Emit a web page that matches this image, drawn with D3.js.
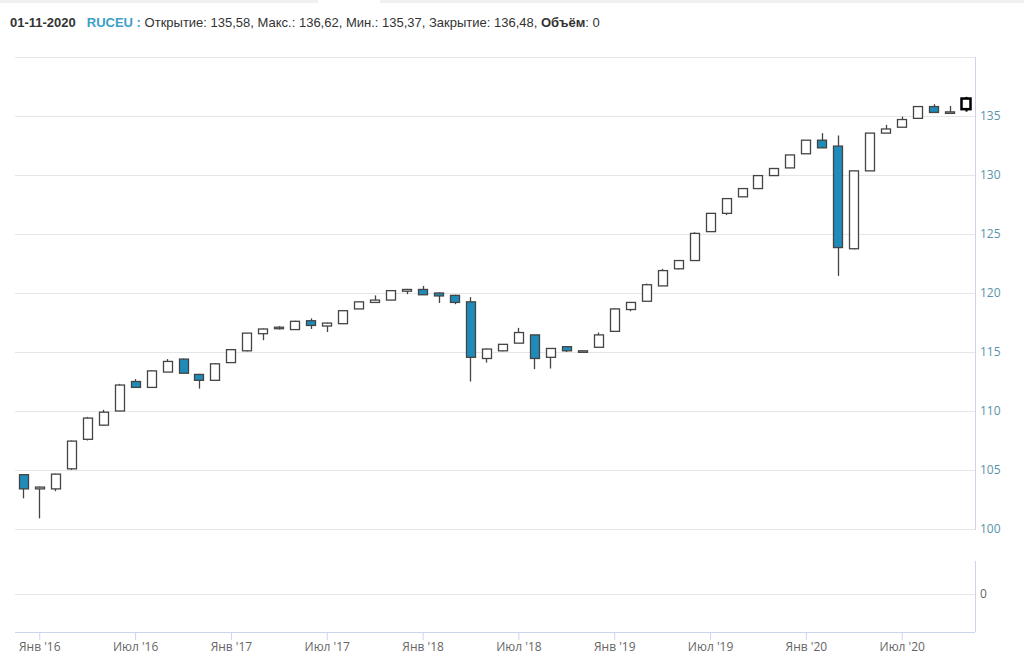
<!DOCTYPE html>
<html><head><meta charset="utf-8">
<script src="https://cdn.jsdelivr.net/npm/d3@7"></script>
<style>
html,body{margin:0;padding:0;background:#fff;}
svg{display:block;font-family:"Liberation Sans",Arial,sans-serif;}
</style></head>
<body><svg id="chart" width="1024" height="656"></svg>
<script>
const months = ["2015-12","2016-01","2016-02","2016-03","2016-04","2016-05","2016-06","2016-07","2016-08","2016-09","2016-10","2016-11","2016-12",
"2017-01","2017-02","2017-03","2017-04","2017-05","2017-06","2017-07","2017-08","2017-09","2017-10","2017-11","2017-12",
"2018-01","2018-02","2018-03","2018-04","2018-05","2018-06","2018-07","2018-08","2018-09","2018-10","2018-11","2018-12",
"2019-01","2019-02","2019-03","2019-04","2019-05","2019-06","2019-07","2019-08","2019-09","2019-10","2019-11","2019-12",
"2020-01","2020-02","2020-03","2020-04","2020-05","2020-06","2020-07","2020-08","2020-09","2020-10","2020-11"];
const openV = [104.6,103.4,103.4,105.1,107.6,108.8,110.0,112.5,112.0,113.3,114.4,113.1,112.6,
114.1,115.1,116.55,117.0,116.9,117.65,117.2,117.4,118.65,119.2,119.4,120.15,
120.3,120.0,119.8,119.25,114.45,115.1,115.75,116.45,114.55,115.45,115.05,115.4,
116.75,118.6,119.3,120.6,122.05,122.75,125.2,126.75,128.15,128.85,129.95,130.6,
131.8,132.95,132.45,123.75,130.35,133.55,134.05,134.8,135.8,135.3,135.58];
const highV = [104.6,103.6,104.7,107.5,109.5,110.1,112.3,112.7,113.45,114.4,114.45,113.15,114.05,
115.25,116.6,117.0,117.2,117.65,117.85,117.5,118.5,119.25,119.8,120.2,120.35,
120.6,120.05,119.85,119.65,115.3,115.65,117.05,116.45,115.3,115.5,115.15,116.65,
118.7,119.2,120.8,122.05,122.75,125.15,126.75,128.0,128.85,129.95,130.55,131.7,
132.95,133.55,133.35,130.35,133.55,134.25,134.95,135.85,136.0,135.85,136.62];
const lowV = [102.6,100.9,103.2,105.0,107.5,108.8,110.0,112.0,112.0,113.3,113.2,111.9,112.6,
114.1,115.05,116.0,116.9,116.9,116.95,116.7,117.4,118.65,119.2,119.4,119.9,
119.85,119.15,119.05,112.5,114.1,115.05,115.75,113.55,113.6,115.0,114.95,115.4,
116.75,118.45,119.3,120.6,122.0,122.75,125.2,126.6,128.15,128.8,129.95,130.6,
131.8,132.3,121.45,123.7,130.35,133.55,134.05,134.8,135.3,135.3,135.37];
const closeV = [103.4,103.55,104.65,107.45,109.4,109.9,112.2,112.0,113.4,114.2,113.2,112.6,114.0,
115.2,116.6,116.95,117.1,117.6,117.25,117.45,118.5,119.25,119.4,120.2,120.3,
119.85,119.75,119.2,114.55,115.25,115.65,116.65,114.45,115.3,115.1,115.1,116.45,
118.65,119.2,120.7,121.9,122.75,125.05,126.75,128.0,128.85,129.95,130.55,131.7,
132.95,132.3,123.85,130.35,133.55,133.9,134.7,135.8,135.3,135.35,136.48];
const priceTicks = [100,105,110,115,120,125,130,135];
const volumeTicks = [0];
const xTickMonths = ["2016-01","2016-07","2017-01","2017-07","2018-01","2018-07","2019-01","2019-07","2020-01","2020-07"];
const monthNames = {"01":"Янв","07":"Июл"};

const data = months.map((m,i)=>({m, o:openV[i], h:highV[i], l:lowV[i], c:closeV[i]}));

const svg = d3.select("#chart");
const left = 15, right = 975;
const x = d3.scalePoint().domain(months).range([23.3, 965.6]);
const y = d3.scaleLinear().domain([100,140]).range([529,57]);
const yv = d3.scaleLinear().domain([-1,1]).range([627,561]);

// top faint bar
svg.append("rect").attr("x",0).attr("y",0).attr("width",318).attr("height",3).attr("fill","#f0f0f0");
svg.append("rect").attr("x",380).attr("y",0).attr("width",644).attr("height",3).attr("fill","#f0f0f0");

// header
const hdr = svg.append("text").attr("x",10).attr("y",27).attr("font-size",13).attr("fill","#333");
hdr.append("tspan").attr("font-weight","bold").text("01-11-2020");
hdr.append("tspan").attr("dx",11).attr("font-weight","bold").attr("fill","#3aa0c8").text("RUCEU :");
hdr.append("tspan").text(" Открытие: 135,58, Макс.: 136,62, Мин.: 135,37, Закрытие: 136,48, ");
hdr.append("tspan").attr("font-weight","bold").text("Объём");
hdr.append("tspan").text(": 0");

// grid lines main
svg.append("g").selectAll("line").data(priceTicks.concat([140])).join("line")
  .attr("x1",left).attr("x2",right).attr("y1",d=>Math.round(y(d))+0.5).attr("y2",d=>Math.round(y(d))+0.5)
  .attr("stroke","#e6e6e6").attr("stroke-width",1);
// volume grid
svg.append("g").selectAll("line").data(volumeTicks).join("line")
  .attr("x1",left).attr("x2",right).attr("y1",d=>Math.round(yv(d))+0.5).attr("y2",d=>Math.round(yv(d))+0.5)
  .attr("stroke","#e6e6e6");

// right axis lines
svg.append("line").attr("x1",right+0.5).attr("x2",right+0.5).attr("y1",57).attr("y2",530).attr("stroke","#ccd6eb");
svg.append("line").attr("x1",right+0.5).attr("x2",right+0.5).attr("y1",561).attr("y2",632).attr("stroke","#ccd6eb");

// right axis labels
const yAxis = d3.axisRight(y).tickValues(priceTicks).tickSize(0).tickPadding(5).tickFormat(d3.format("d"));
const ga = svg.append("g").attr("transform",`translate(${right},0)`).call(yAxis);
ga.select(".domain").remove();
ga.selectAll("text").attr("fill","#5a93a8").attr("font-size",12).attr("font-family","'Open Sans',sans-serif");
const yvAxis = d3.axisRight(yv).tickValues(volumeTicks).tickSize(0).tickPadding(5).tickFormat(d3.format("d"));
const gv = svg.append("g").attr("transform",`translate(${right},0)`).call(yvAxis);
gv.select(".domain").remove();
gv.selectAll("text").attr("fill","#666").attr("font-size",12).attr("font-family","'Open Sans',sans-serif");

// x axis
const xAxis = d3.axisBottom(x).tickValues(xTickMonths).tickSize(8).tickPadding(2)
  .tickFormat(m => monthNames[m.slice(5)] + " '" + m.slice(2,4));
const gx = svg.append("g").attr("transform","translate(0,632)").call(xAxis);
gx.select(".domain").attr("d",`M${left},0.5H${right}`).attr("stroke","#ccd6eb");
gx.selectAll(".tick line").attr("stroke","#ccd6eb");
gx.selectAll("text").attr("fill","#666").attr("font-size",12).attr("font-family","'Open Sans',sans-serif");

// candles
const bw = 9;
const g = svg.append("g");
const cg = g.selectAll("g.c").data(data).join("g").attr("class","c");
cg.append("line")
  .attr("x1",d=>Math.round(x(d.m))+0.5).attr("x2",d=>Math.round(x(d.m))+0.5)
  .attr("y1",d=>y(d.h)).attr("y2",d=>y(d.l))
  .attr("stroke",(d,i)=> i===data.length-1 ? "#000" : "#444").attr("stroke-width",(d,i)=> i===data.length-1 ? 2 : 1.3);
cg.append("rect")
  .attr("x",d=>Math.round(x(d.m)-bw/2)+0.5)
  .attr("y",d=>y(Math.max(d.o,d.c)))
  .attr("width",bw)
  .attr("height",d=>Math.max(1.5, Math.abs(y(d.o)-y(d.c))))
  .attr("fill",d=> d.c < d.o ? "#1f8bb8" : "#fff")
  .attr("stroke",(d,i)=> i===data.length-1 ? "#000" : "#444")
  .attr("stroke-width",(d,i)=> i===data.length-1 ? 2.5 : 1.3);
</script></body></html>
